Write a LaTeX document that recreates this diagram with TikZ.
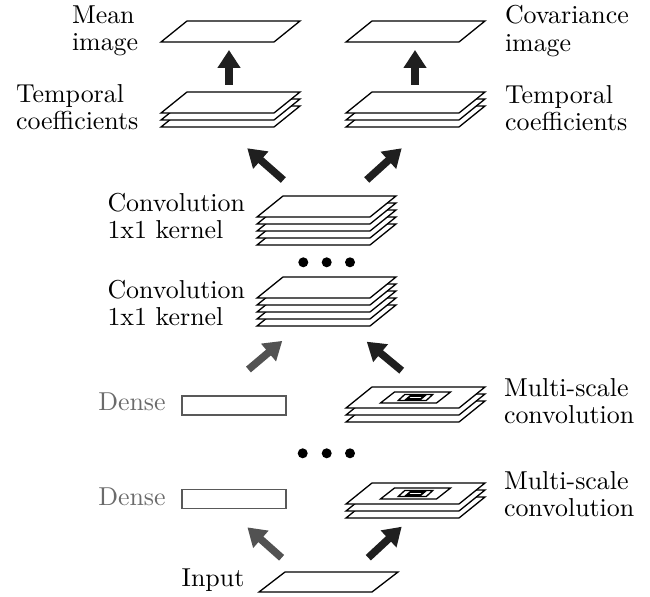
\documentclass[tikz,border=0pt]{standalone}
\usepackage{graphicx}
\usetikzlibrary{arrows.meta}
\newcommand{\mylbl}[1]{\scalebox{2.6}{\fontsize{10}{10.6}\selectfont\begin{tabular}[t]{@{}l@{}}#1\end{tabular}}}
\newcommand{\sheetat}[2]{\draw[sheetst] (#1,#2) -- ++(113,0) -- ++(26,-21) -- ++(-113,0) -- cycle;}
\tikzset{
  sheetst/.style={draw=black, fill=white, line width=1.3bp, line join=miter},
  holder/.style={inner sep=0pt, outer sep=0pt, draw=none, minimum width=139bp},
  barr/.style={line width=7.5bp, draw=black!88, -{Triangle[length=18bp,width=22bp]}},
  garr/.style={barr, draw=black!68},
  lbl/.style={anchor=base west, inner sep=0pt, outer sep=0pt},
  glbl/.style={lbl, text=black!58},
  dotst/.style={circle, fill=black, draw=none, inner sep=0pt, minimum size=10bp},
  densest/.style={draw=black!65, fill=white, line width=1.2bp, minimum width=104bp, minimum height=19bp, inner sep=0pt}
}
\begin{document}
\begin{tikzpicture}[x=1bp, y=-1bp]
\useasboundingbox (0,0) rectangle (650,597);

% --- top images
\sheetat{161}{42}
\node[holder, minimum height=21bp] (meanimg) at (230.5,31.5) {};
\sheetat{346}{42}
\node[holder, minimum height=21bp] (covimg) at (415.5,31.5) {};

% --- temporal coefficients
\sheetat{161}{127}\sheetat{161}{120}\sheetat{161}{113}
\node[holder, minimum height=35bp] (tempL) at (230.5,109.5) {};
\sheetat{346}{127}\sheetat{346}{120}\sheetat{346}{113}
\node[holder, minimum height=35bp] (tempR) at (415.5,109.5) {};

% --- convolution stacks
\sheetat{257}{245}\sheetat{257}{238}\sheetat{257}{231}\sheetat{257}{224}\sheetat{257}{217}
\node[holder, minimum height=49bp] (conv1) at (326.5,220.5) {};
\sheetat{257}{326}\sheetat{257}{319}\sheetat{257}{312}\sheetat{257}{305}\sheetat{257}{298}
\node[holder, minimum height=49bp] (conv2) at (326.5,301.5) {};

% --- dots
\node[dotst] (da1) at (303.3,262.3) {};
\node[dotst] (da2) at (326.7,262.3) {};
\node[dotst] (da3) at (350,262.3) {};
\node[dotst] (db1) at (302.7,453.3) {};
\node[dotst] (db2) at (326.7,453.3) {};
\node[dotst] (db3) at (350,453.3) {};

% --- multi-scale stacks
\sheetat{346}{422}\sheetat{346}{415}\sheetat{346}{408}
\draw[sheetst] (380.5,403) -- ++(56,0) -- ++(14,-11) -- ++(-56,0) -- cycle;
\draw[sheetst] (398.25,400.5) -- ++(28,0) -- ++(6.5,-6) -- ++(-28,0) -- cycle;
\draw[sheetst, line width=1.8bp] (406.75,399) -- ++(14,0) -- ++(3.5,-3) -- ++(-14,0) -- cycle;
\node[holder, minimum height=35bp] (multi1) at (415.5,404.5) {};

\sheetat{346}{518}\sheetat{346}{511}\sheetat{346}{504}
\draw[sheetst] (380.5,499) -- ++(56,0) -- ++(14,-11) -- ++(-56,0) -- cycle;
\draw[sheetst] (398.25,496.5) -- ++(28,0) -- ++(6.5,-6) -- ++(-28,0) -- cycle;
\draw[sheetst, line width=1.8bp] (406.75,495) -- ++(14,0) -- ++(3.5,-3) -- ++(-14,0) -- cycle;
\node[holder, minimum height=35bp] (multi2) at (415.5,500.5) {};

% --- dense layers
\node[densest] (dense1) at (234,405.5) {};
\node[densest] (dense2) at (234,499.2) {};

% --- input
\draw[sheetst] (259,592) -- ++(113,0) -- ++(26,-20) -- ++(-113,0) -- cycle;
\node[holder, minimum height=20bp] (input) at (328.5,582) {};

% --- arrows
\draw[barr, shorten <=7bp, shorten >=8bp] ([xshift=-1.5bp]tempL.north) -- ([xshift=-1.5bp]meanimg.south);
\draw[barr, shorten <=7bp, shorten >=8bp] ([xshift=-0.5bp]tempR.north) -- ([xshift=-0.5bp]covimg.south);
\draw[barr, shorten <=24.2bp, shorten >=32.2bp] ([xshift=-25bp]conv1.north) -- ([xshift=-7.4bp]tempL.south);
\draw[barr, shorten <=23.9bp, shorten >=31.7bp] ([xshift=22.5bp]conv1.north) -- ([xshift=9.7bp]tempR.south);
\draw[garr, shorten <=40.1bp, shorten >=23.1bp] ([xshift=-16.2bp]dense1.north) -- ([xshift=-26.6bp]conv2.south);
\draw[barr, shorten <=25.6bp, shorten >=24.6bp] ([xshift=5.9bp]multi1.north) -- ([xshift=21.3bp]conv2.south);
\draw[garr, shorten <=21.4bp, shorten >=27.2bp] ([xshift=-30.9bp]input.north) -- ([xshift=-6.9bp]dense2.south);
\draw[barr, shorten <=21bp, shorten >=12.8bp] ([xshift=24.4bp]input.north) -- ([xshift=-4.4bp]multi2.south);

% --- labels
\node[lbl] (tmean) at (72,23.5) {\mylbl{Mean\\image}};
\node[lbl] (ttempL) at (16,102.5) {\mylbl{Temporal\\coefficients}};
\node[lbl] (tcov) at (505,24) {\mylbl{Covariance\\image}};
\node[lbl] (ttempR) at (505,103.5) {\mylbl{Temporal\\coefficients}};
\node[lbl] (tconv1) at (107.5,211.5) {\mylbl{Convolution\\1x1 kernel}};
\node[lbl] (tconv2) at (107.5,298.3) {\mylbl{Convolution\\1x1 kernel}};
\node[glbl] (tdense1) at (98.3,410.7) {\mylbl{Dense}};
\node[glbl] (tdense2) at (98.3,505) {\mylbl{Dense}};
\node[lbl] (tmulti1) at (504,396) {\mylbl{Multi-scale\\convolution}};
\node[lbl] (tmulti2) at (504,489.3) {\mylbl{Multi-scale\\convolution}};
\node[lbl] (tinput) at (181.7,586.7) {\mylbl{Input}};
\end{tikzpicture}
\end{document}
